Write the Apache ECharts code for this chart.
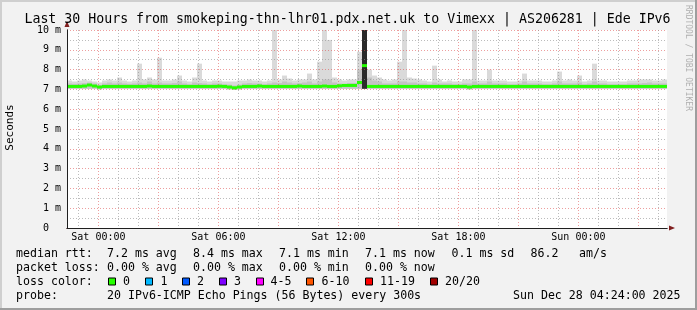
<!DOCTYPE html>
<html><head><meta charset="utf-8">
<script src="https://cdn.jsdelivr.net/npm/echarts@6/dist/echarts.min.js"></script>
<style>html,body{margin:0;padding:0;background:#f2f2f2;}#c{width:697px;height:310px;}</style>
</head><body><div id="c"></div>
<script>
// ---------- DATA ----------
const titleText = 'Last 30 Hours from smokeping-thn-lhr01.pdx.net.uk to Vimexx | AS206281 | Ede IPv6';
const yAxisName = 'Seconds';
const watermark = 'RRDTOOL / TOBI OETIKER';
const startHour = -1.57;      // hours relative to Sat 00:00
const spanHours = 30;
const stepHours = 0.25;       // one bin = 15 minutes
const xTickHours = [0, 6, 12, 18, 24];
const xTickLabels = ['Sat 00:00', 'Sat 06:00', 'Sat 12:00', 'Sat 18:00', 'Sun 00:00'];
const xMajorHours = [0, 3, 6, 9, 12, 15, 18, 21, 24, 27];
const xMinorHours = [-1, 1, 2, 4, 5, 7, 8, 10, 11, 13, 14, 16, 17, 19, 20, 22, 23, 25, 26, 28];
const yMinorMs = [0.5, 1.5, 2.5, 3.5, 4.5, 5.5, 6.5, 7.5, 8.5, 9.5];

// median rtt (ms) per 15-min bin
const median = [
 7.15,7.15,7.15,7.17,7.22,7.17,7.12,7.15,7.15,7.15,
 7.15,7.15,7.15,7.15,7.15,7.15,7.17,7.15,7.15,7.15,
 7.15,7.15,7.15,7.15,7.15,7.15,7.15,7.15,7.15,7.15,
 7.16,7.15,7.12,7.08,7.12,7.15,7.15,7.15,7.17,7.15,
 7.15,7.15,7.15,7.15,7.15,7.15,7.17,7.15,7.15,7.15,
 7.15,7.17,7.15,7.15,7.18,7.2,7.2,7.2,7.35,8.2,
 7.15,7.15,7.15,7.15,7.15,7.15,7.15,7.15,7.15,7.15,
 7.15,7.15,7.15,7.15,7.15,7.15,7.15,7.15,7.15,7.15,
 7.12,7.15,7.15,7.15,7.15,7.15,7.15,7.15,7.15,7.15,
 7.15,7.15,7.15,7.15,7.15,7.15,7.15,7.15,7.15,7.15,
 7.15,7.15,7.15,7.15,7.15,7.15,7.15,7.15,7.15,7.15,
 7.15,7.15,7.15,7.15,7.15,7.15,7.15,7.15,7.15,7.15];
// fastest ping (ms)
const minPing = [
 7.03,7.03,7.03,7.03,7.03,7.03,7.0,7.03,7.03,7.03,
 7.03,7.03,7.03,7.03,7.03,7.03,7.03,7.03,7.03,7.03,
 7.03,7.03,7.03,7.03,7.03,7.03,7.03,7.03,7.03,7.03,
 7.03,7.03,7.0,6.98,7.0,7.03,7.03,7.03,7.03,7.03,
 7.03,7.03,7.03,7.03,7.03,7.03,7.03,7.03,7.03,7.03,
 7.03,7.03,7.03,7.03,7.03,7.03,7.03,7.03,7.03,7.03,
 7.03,7.03,7.03,7.03,7.03,7.03,7.03,7.03,7.03,7.03,
 7.03,7.03,7.03,7.03,7.03,7.03,7.03,7.03,7.03,7.03,
 7.0,7.03,7.03,7.03,7.03,7.03,7.03,7.03,7.03,7.03,
 7.03,7.03,7.03,7.03,7.03,7.03,7.03,7.03,7.03,7.03,
 7.03,7.03,7.03,7.03,7.03,7.03,7.03,7.03,7.03,7.03,
 7.03,7.03,7.03,7.03,7.03,7.03,7.03,7.03,7.03,7.03];
// slowest ping (ms)
const maxPing = [
 7.45,7.4,7.45,7.5,7.45,7.4,7.35,7.45,7.5,7.45,
 7.6,7.45,7.4,7.45,8.3,7.5,7.6,7.5,8.6,7.45,
 7.45,7.5,7.7,7.45,7.4,7.6,8.3,7.45,7.4,7.45,
 7.45,7.4,7.4,7.4,7.45,7.45,7.5,7.45,7.45,7.4,
 7.45,10,7.5,7.7,7.55,7.45,7.5,7.5,7.8,7.5,
 8.4,10,9.5,7.6,7.5,7.45,7.5,7.5,8.9,10,
 8.0,7.7,7.6,7.5,7.45,7.5,8.4,10,7.6,7.55,
 7.5,7.45,7.4,8.2,7.5,7.4,7.45,7.4,7.4,7.5,
 7.5,10,7.45,7.45,8.0,7.45,7.45,7.45,7.4,7.4,
 7.45,7.8,7.45,7.45,7.45,7.4,7.4,7.45,7.9,7.45,
 7.5,7.45,7.7,7.4,7.45,8.3,7.45,7.45,7.4,7.4,
 7.4,7.4,7.45,7.45,7.5,7.5,7.5,7.45,7.45,7.5];
// upper edge of the denser smoke (ms)
const innerPing = [
 7.3,7.28,7.3,7.32,7.35,7.3,7.22,7.3,7.35,7.3,
 7.35,7.3,7.28,7.3,7.35,7.3,7.4,7.3,7.35,7.3,
 7.3,7.32,7.4,7.3,7.26,7.35,7.32,7.3,7.26,7.3,
 7.3,7.26,7.24,7.2,7.24,7.3,7.32,7.3,7.3,7.26,
 7.3,7.35,7.32,7.4,7.35,7.3,7.32,7.35,7.4,7.3,
 7.4,7.5,7.5,7.35,7.3,7.28,7.32,7.32,8.0,10,
 7.6,7.45,7.4,7.3,7.3,7.3,7.4,7.4,7.35,7.35,
 7.3,7.3,7.26,7.35,7.3,7.3,7.3,7.26,7.26,7.3,
 7.3,7.4,7.3,7.3,7.4,7.3,7.3,7.3,7.26,7.26,
 7.3,7.4,7.3,7.3,7.3,7.26,7.26,7.3,7.4,7.3,
 7.3,7.3,7.35,7.26,7.3,7.4,7.3,7.3,7.26,7.26,
 7.26,7.26,7.3,7.3,7.3,7.32,7.35,7.3,7.3,7.3];
// core of smoke (ms), 0 = none
const corePing = [
 0,0,0,0,0,0,0,0,0,0, 0,0,0,0,0,0,0,0,0,0, 0,0,0,0,0,0,0,0,0,0,
 0,0,0,0,0,0,0,0,0,0, 0,0,0,0,0,0,0,0,0,0, 0,0,0,0,0,0,0,0,0,10,
 0,0,0,0,0,0,0,0,0,0, 0,0,0,0,0,0,0,0,0,0, 0,0,0,0,0,0,0,0,0,0,
 0,0,0,0,0,0,0,0,0,0, 0,0,0,0,0,0,0,0,0,0, 0,0,0,0,0,0,0,0,0,0];

const rttRow = ['median rtt:', '7.2 ms avg', '8.4 ms max', '7.1 ms min', '7.1 ms now', '0.1 ms sd', '86.2', 'am/s'];
const lossRow = ['packet loss:', '0.00 % avg', '0.00 % max', '0.00 % min', '0.00 % now'];
const lossColorTitle = 'loss color:';
const lossLabels = ['0', '1', '2', '3', '4-5', '6-10', '11-19', '20/20'];
const probeRow = ['probe:', '20 IPv6-ICMP Echo Pings (56 Bytes) every 300s'];
const stampText = 'Sun Dec 28 04:24:00 2025';

// ---------- STYLE / LAYOUT ----------
const MONO = '"DejaVu Sans Mono", monospace';
const lossColors = ['#26ff00', '#00b8ff', '#0059ff', '#7e00ff', '#ff00ff', '#ff5500', '#ff0000', '#a10000'];
const rttX = [16, 107, 193, 279, 365, 451.5, 530.5, 579];
const lossBoxX = [108.5, 145.5, 182.5, 219.5, 256.5, 306.5, 365.5, 430.5];
const lossLabelX = [123, 160.5, 197, 234, 270.5, 321.5, 380, 445];
const rowY = [253.5, 267.5, 281.5, 295.5];
const GRID_RED = 'rgba(222,79,79,0.55)';
const GRID_GRAY = 'rgba(143,143,143,0.6)';

function band(bottom, top, color, z) {
  return {
    type: 'custom', xAxisIndex: 0, yAxisIndex: 0, z: z, silent: true, clip: true,
    encode: { x: 0, y: 2 },
    data: top.map((v, i) => [startHour + i * stepHours, bottom[i], v]),
    renderItem: function (params, api) {
      const t = api.value(0), a = api.value(1), b = api.value(2);
      if (!(b > a)) return null;
      const p1 = api.coord([t, b]);
      const p2 = api.coord([t + stepHours, a]);
      return { type: 'rect', shape: { x: p1[0], y: p1[1], width: p2[0] - p1[0], height: p2[1] - p1[1] }, style: { fill: color } };
    }
  };
}
const medianSeries = {
  type: 'custom', xAxisIndex: 0, yAxisIndex: 0, z: 5, silent: true, clip: true,
  encode: { x: 0, y: 1 },
  data: median.map((v, i) => [startHour + i * stepHours, v]),
  renderItem: function (params, api) {
    const p1 = api.coord([api.value(0), api.value(1)]);
    const p2 = api.coord([api.value(0) + stepHours, api.value(1)]);
    return { type: 'rect', shape: { x: p1[0], y: p1[1] - 1.5, width: p2[0] - p1[0], height: 3 }, style: { fill: lossColors[0] } };
  }
};

function txt(s, x, y, size, opt) {
  opt = opt || {};
  return {
    type: 'text', x: x, y: y, rotation: opt.rotation || 0, silent: true, z: 10,
    style: { text: s, font: size + 'px ' + MONO, fill: opt.fill || '#000',
      align: opt.align || 'left', textAlign: opt.align || 'left',
      verticalAlign: 'middle', textVerticalAlign: 'middle' }
  };
}

const graphics = [];
// 3D frame
graphics.push({ type: 'rect', shape: { x: 0, y: 0, width: 697, height: 2 }, style: { fill: '#cfcfcf' }, silent: true });
graphics.push({ type: 'rect', shape: { x: 0, y: 0, width: 2, height: 310 }, style: { fill: '#cfcfcf' }, silent: true });
graphics.push({ type: 'rect', shape: { x: 0, y: 308, width: 697, height: 2 }, style: { fill: '#9e9e9e' }, silent: true });
graphics.push({ type: 'rect', shape: { x: 695, y: 0, width: 2, height: 310 }, style: { fill: '#9e9e9e' }, silent: true });
graphics.push(txt(titleText, 347.5, 19.5, 13.25, { align: 'center' }));
graphics.push(txt(yAxisName, 10.5, 127.5, 11, { align: 'center', rotation: Math.PI / 2 }));
graphics.push(txt(watermark, 688, 5, 8, { rotation: -Math.PI / 2, fill: '#b0b0b0' }));
rttRow.forEach((s, i) => graphics.push(txt(s, rttX[i], rowY[0], 11.6)));
lossRow.forEach((s, i) => graphics.push(txt(s, rttX[i], rowY[1], 11.6)));
graphics.push(txt(lossColorTitle, rttX[0], rowY[2], 11.6));
lossLabels.forEach((s, i) => {
  graphics.push({ type: 'rect', silent: true, z: 10, shape: { x: lossBoxX[i], y: rowY[2] - 3.5, width: 7, height: 7 }, style: { fill: lossColors[i], stroke: '#000', lineWidth: 1 } });
  graphics.push(txt(s, lossLabelX[i], rowY[2], 11.6));
});
graphics.push(txt(probeRow[0], rttX[0], rowY[3], 11.6));
graphics.push(txt(probeRow[1], rttX[1], rowY[3], 11.6));
graphics.push(txt(stampText, 680.5, rowY[3], 11.6, { align: 'right' }));

const chart = echarts.init(document.getElementById('c'), null, { renderer: 'canvas' });
chart.setOption({
  animation: false,
  backgroundColor: '#f2f2f2',
  grid: { left: 67, top: 30, width: 600, height: 198, show: true, backgroundColor: '#ffffff', borderWidth: 0, containLabel: false },
  xAxis: [
    { type: 'value', min: startHour, max: startHour + spanHours, position: 'bottom', offset: 0, z: 6,
      axisLine: { show: true, onZero: false, lineStyle: { color: '#1f1f1f', width: 1 } },
      axisTick: { show: false, customValues: xTickHours },
      axisLabel: { show: true, customValues: xTickHours, margin: 4, color: '#000', fontFamily: MONO, fontSize: 10,
        formatter: function (v) { const k = xTickHours.indexOf(Math.round(v)); return k >= 0 ? xTickLabels[k] : ''; } },
      splitLine: { show: false } },
    { type: 'value', min: startHour, max: startHour + spanHours, position: 'bottom', offset: 0, z: 3,
      axisLine: { show: true, onZero: false, symbol: ['none', 'triangle'], symbolSize: [5, 6], symbolOffset: [0, 5], lineStyle: { color: '#801f1f', width: 1 } },
      axisTick: { show: false, customValues: xMajorHours }, axisLabel: { show: false, customValues: xMajorHours },
      splitLine: { show: true, lineStyle: { color: GRID_RED, width: 1, type: [1, 2] } } },
    { type: 'value', min: startHour, max: startHour + spanHours, position: 'bottom', offset: 0, z: 3,
      axisLine: { show: false, onZero: false },
      axisTick: { show: false, customValues: xMinorHours }, axisLabel: { show: false, customValues: xMinorHours },
      splitLine: { show: true, lineStyle: { color: GRID_GRAY, width: 1, type: [1, 2] } } }
  ],
  yAxis: [
    { type: 'value', min: 0, max: 10, interval: 1, position: 'left', offset: 0, z: 6,
      axisLine: { show: true, onZero: false, lineStyle: { color: '#1f1f1f', width: 1 } },
      axisTick: { show: false },
      axisLabel: { show: true, margin: 6, color: '#000', fontFamily: MONO, fontSize: 10,
        formatter: function (v) { return v === 0 ? '0  ' : v + ' m'; } },
      splitLine: { show: false } },
    { type: 'value', min: 0, max: 10, interval: 1, position: 'left', offset: 0, z: 3,
      axisLine: { show: true, onZero: false, symbol: ['none', 'triangle'], symbolSize: [5, 6], symbolOffset: [0, 6], lineStyle: { color: '#801f1f', width: 1 } },
      axisTick: { show: false }, axisLabel: { show: false },
      splitLine: { show: true, lineStyle: { color: GRID_RED, width: 1, type: [1, 2] } } },
    { type: 'value', min: 0, max: 10, position: 'left', offset: 0, z: 3,
      axisLine: { show: false, onZero: false },
      axisTick: { show: false, customValues: yMinorMs }, axisLabel: { show: false, customValues: yMinorMs },
      splitLine: { show: true, lineStyle: { color: GRID_GRAY, width: 1, type: [1, 2] } } }
  ],
  graphic: graphics,
  series: [
    band(minPing, maxPing, '#dadada', 1),
    band(minPing, innerPing, '#c4c4c4', 1),
    band(minPing, corePing, '#2a2a2a', 1),
    medianSeries
  ]
});
</script></body></html>
